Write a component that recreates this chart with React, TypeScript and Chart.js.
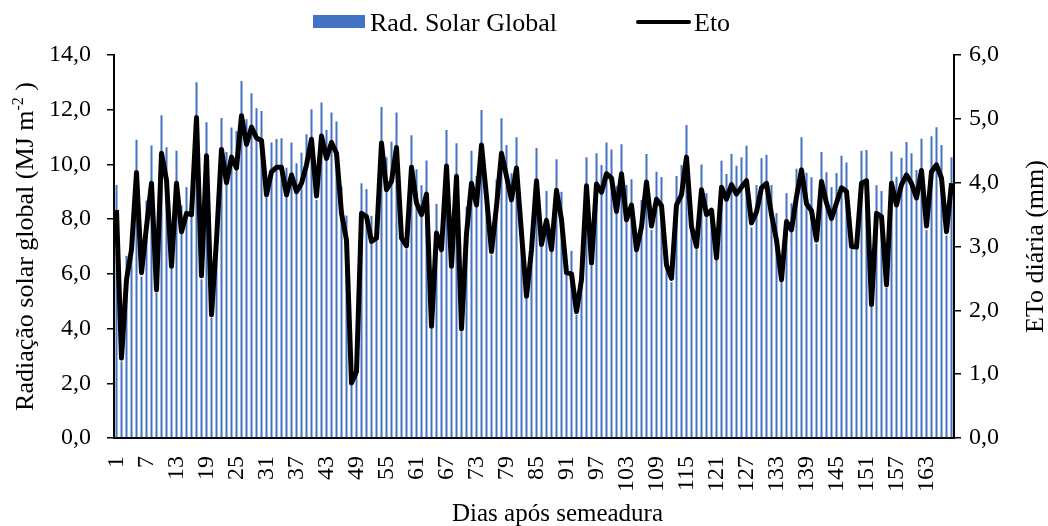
import React, { useEffect, useRef } from 'react';
import { Chart, registerables } from 'chart.js';

Chart.register(...registerables);

const days: string[] = Array.from({ length: 168 }, (_, i) => String(i + 1));

const radiation: number[] = [
  9.25, 2.8, 6.66, 6.9, 10.9, 5.9, 8.68, 10.69, 5.3, 11.8,
  10.63, 6.2, 10.5, 8.5, 9.17, 8.1, 13.0, 5.8, 11.54, 4.4,
  7.0, 11.7, 10.45, 11.35, 11.22, 13.05, 11.65, 12.6, 12.05, 11.95,
  8.8, 10.8, 10.93, 10.96, 9.88, 10.8, 10.04, 10.43, 11.1, 12.02,
  8.7, 12.26, 11.26, 11.9, 11.57, 9.19, 8.13, 1.95, 2.35, 9.31,
  9.1, 8.12, 7.2, 12.1, 10.26, 10.83, 11.9, 7.2, 6.9, 11.07,
  9.82, 9.24, 10.14, 4.0, 8.56, 6.8, 11.26, 6.2, 10.77, 3.9,
  8.46, 10.5, 9.58, 11.99, 8.7, 6.7, 9.46, 11.69, 10.71, 9.68,
  10.99, 7.4, 5.1, 6.8, 10.6, 7.0, 9.03, 6.8, 10.19, 9.0,
  6.0, 6.84, 4.5, 5.7, 10.26, 6.3, 10.41, 9.98, 10.8, 10.55,
  9.22, 10.74, 9.25, 9.46, 6.8, 8.7, 10.38, 7.6, 9.73, 9.54,
  6.2, 5.7, 9.58, 9.98, 11.44, 7.6, 6.9, 10.0, 8.95, 8.2,
  6.5, 10.13, 9.65, 10.38, 9.95, 10.26, 10.68, 7.7, 9.25, 10.23,
  10.35, 9.25, 8.22, 5.7, 8.95, 8.58, 9.84, 10.99, 9.7, 9.53,
  7.1, 10.45, 9.71, 9.17, 9.69, 10.32, 10.07, 6.9, 6.9, 10.5,
  10.53, 4.8, 9.24, 9.03, 5.5, 10.47, 9.55, 10.24, 10.82, 10.41,
  9.8, 10.94, 7.6, 11.03, 11.36, 10.71, 7.4, 10.26,
];

const eto: number[] = [
  3.57, 1.25, 2.48, 2.95, 4.16, 2.59, 3.31, 3.99, 2.32, 4.46,
  4.04, 2.69, 3.99, 3.23, 3.52, 3.5, 5.02, 2.54, 4.42, 1.93,
  3.1, 4.52, 4.0, 4.4, 4.23, 5.05, 4.6, 4.87, 4.7, 4.66,
  3.81, 4.17, 4.24, 4.24, 3.81, 4.12, 3.86, 3.99, 4.28, 4.68,
  3.79, 4.73, 4.38, 4.63, 4.46, 3.52, 3.1, 0.86, 1.04, 3.52,
  3.47, 3.08, 3.13, 4.62, 3.89, 4.02, 4.55, 3.13, 3.01, 4.24,
  3.68, 3.5, 3.82, 1.75, 3.21, 2.95, 4.26, 2.69, 4.1, 1.71,
  3.2, 3.99, 3.65, 4.59, 3.78, 2.92, 3.63, 4.46, 4.1, 3.73,
  4.23, 3.21, 2.22, 2.95, 4.03, 3.03, 3.41, 2.95, 3.88, 3.42,
  2.59, 2.57, 1.98, 2.48, 3.95, 2.74, 3.98, 3.85, 4.14, 4.07,
  3.55, 4.14, 3.42, 3.65, 2.95, 3.31, 4.01, 3.32, 3.74, 3.64,
  2.71, 2.5, 3.65, 3.81, 4.4, 3.31, 3.0, 3.89, 3.5, 3.57,
  2.82, 3.93, 3.74, 3.97, 3.82, 3.93, 4.03, 3.37, 3.54, 3.92,
  3.99, 3.5, 3.1, 2.48, 3.39, 3.26, 3.78, 4.2, 3.67, 3.56,
  3.1, 4.02, 3.68, 3.44, 3.68, 3.92, 3.86, 3.0, 2.99, 3.99,
  4.03, 2.09, 3.52, 3.47, 2.4, 3.99, 3.65, 3.97, 4.12, 3.99,
  3.76, 4.19, 3.32, 4.17, 4.28, 4.07, 3.23, 3.99,
];

const labelStep = 6;
const barLabel = 'Rad. Solar Global';
const lineLabel = 'Eto';
const xTitle = 'Dias após semeadura';
const yTitleMain = 'Radiação solar global (MJ m';
const yTitleSup = '-2';
const yTitleEnd = ' )';
const y1Title = 'ETo diária (mm)';

const FONT = '"Liberation Serif", "Times New Roman", serif';
const BLUE = '#4472C4';

const fmt = (v: number | string) => Number(v).toFixed(1).replace('.', ',');

const decorPlugin = {
  id: 'decor',
  afterDraw(chart: any) {
    const ctx: CanvasRenderingContext2D = chart.ctx;
    const ca = chart.chartArea;
    ctx.save();
    ctx.fillStyle = '#000';
    ctx.textBaseline = 'alphabetic';

    // Legend
    ctx.fillStyle = BLUE;
    ctx.fillRect(313, 15, 52, 13);
    ctx.fillStyle = '#000';
    ctx.font = `26px ${FONT}`;
    ctx.textAlign = 'left';
    ctx.fillText(barLabel, 370, 31);
    ctx.strokeStyle = '#000';
    ctx.lineWidth = 4;
    ctx.lineCap = 'round';
    ctx.beginPath();
    ctx.moveTo(638, 22);
    ctx.lineTo(689, 22);
    ctx.stroke();
    ctx.fillText(lineLabel, 694, 31);

    // X title
    ctx.font = `25px ${FONT}`;
    ctx.textAlign = 'left';
    ctx.fillText(xTitle, 452, 521);

    // Left Y title with superscript
    const cy = (ca.top + ca.bottom) / 2;
    const mainFont = `26px ${FONT}`;
    const supFont = `16px ${FONT}`;
    ctx.font = mainFont;
    const w1 = ctx.measureText(yTitleMain).width;
    const w3 = ctx.measureText(yTitleEnd).width;
    ctx.font = supFont;
    const w2 = ctx.measureText(yTitleSup).width;
    const total = w1 + w2 + w3;
    ctx.save();
    ctx.translate(33, cy);
    ctx.rotate(-Math.PI / 2);
    ctx.textAlign = 'left';
    let x = -total / 2;
    ctx.font = mainFont;
    ctx.fillText(yTitleMain, x, 0);
    x += w1;
    ctx.font = supFont;
    ctx.fillText(yTitleSup, x, -10);
    x += w2;
    ctx.font = mainFont;
    ctx.fillText(yTitleEnd, x, 0);
    ctx.restore();

    // Right Y title
    ctx.save();
    ctx.translate(1043, cy);
    ctx.rotate(-Math.PI / 2);
    ctx.font = `26px ${FONT}`;
    ctx.textAlign = 'center';
    ctx.fillText(y1Title, 0, 0);
    ctx.restore();

    ctx.restore();
  },
};

export default function App() {
  const ref = useRef<HTMLCanvasElement | null>(null);

  useEffect(() => {
    if (!ref.current) return;
    const tickFont = { family: FONT, size: 24 };
    const chart = new Chart(ref.current, {
      data: {
        labels: days,
        datasets: [
          {
            type: 'line',
            label: lineLabel,
            data: eto,
            yAxisID: 'y1',
            borderColor: '#000',
            borderWidth: 5,
            pointRadius: 0,
            tension: 0,
            order: 0,
            borderJoinStyle: 'round',
          } as any,
          {
            type: 'bar',
            label: barLabel,
            data: radiation,
            yAxisID: 'y',
            backgroundColor: BLUE,
            barPercentage: 0.4,
            categoryPercentage: 1,
            order: 1,
          } as any,
        ],
      },
      options: {
        responsive: false,
        animation: false,
        layout: { padding: { top: 55, left: 0, right: 0, bottom: 0 } },
        plugins: {
          legend: { display: false },
          tooltip: { enabled: false },
        },
        scales: {
          x: {
            type: 'category',
            offset: true,
            grid: { display: false, drawTicks: false },
            border: { display: true, color: '#000', width: 2 },
            ticks: {
              autoSkip: false,
              maxRotation: 90,
              minRotation: 90,
              padding: 18,
              color: '#000',
              font: tickFont,
              callback: (_v: any, i: number) => (i % labelStep === 0 ? days[i] : ''),
            },
            afterFit: (s: any) => {
              s.height = 88;
            },
          },
          y: {
            position: 'left',
            min: 0,
            max: 14,
            ticks: {
              stepSize: 2,
              padding: 16,
              color: '#000',
              font: tickFont,
              callback: (v: any) => fmt(v),
            },
            grid: { drawOnChartArea: false, drawTicks: true, tickLength: 7, color: '#000', lineWidth: 1.5 },
            border: { display: true, color: '#000', width: 2 },
            afterFit: (s: any) => {
              s.width = 114;
            },
          },
          y1: {
            position: 'right',
            min: 0,
            max: 6,
            ticks: {
              stepSize: 1,
              padding: 8,
              color: '#000',
              font: tickFont,
              callback: (v: any) => fmt(v),
            },
            grid: { drawOnChartArea: false, drawTicks: true, tickLength: 7, color: '#000', lineWidth: 1.5 },
            border: { display: true, color: '#000', width: 2 },
            afterFit: (s: any) => {
              s.width = 94;
            },
          },
        },
      } as any,
      plugins: [decorPlugin],
    });
    return () => chart.destroy();
  }, []);

  return (
    <div style={{ position: 'absolute', left: 0, top: 0, width: 1048, height: 526, background: '#fff' }}>
      <canvas ref={ref} width={1048} height={526} style={{ display: 'block' }} />
    </div>
  );
}
